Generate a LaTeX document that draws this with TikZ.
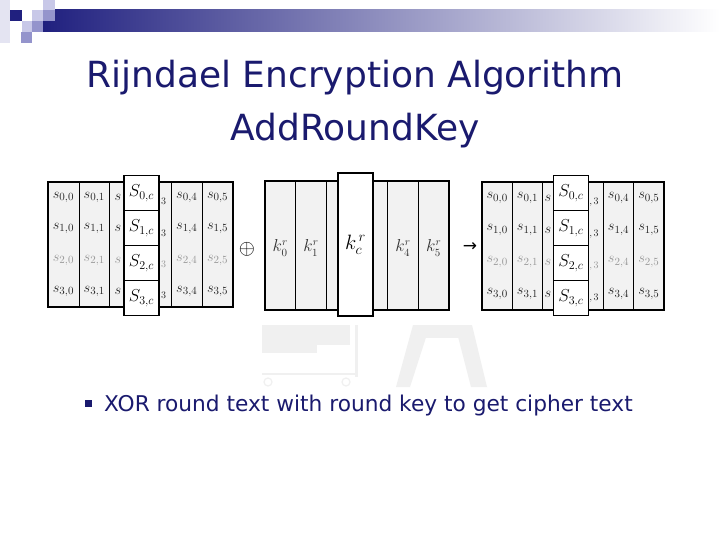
\documentclass[tikz,border=0pt]{standalone}
\usepackage{fontspec}
\setmainfont{DejaVu Sans}
\usetikzlibrary{positioning}

\definecolor{navy}{HTML}{1A1A6E}
\definecolor{barblue}{HTML}{20207F}
\definecolor{cellgray}{HTML}{F2F2F2}
\definecolor{sqa}{HTML}{C8C8E8}
\definecolor{sqb}{HTML}{9494CC}
\definecolor{sqc}{HTML}{E4E4F2}
\definecolor{wmark}{HTML}{F0F0F0}

\tikzset{
  frame/.style={draw, line width=2pt, fill=cellgray},
  sep/.style={line width=0.6pt},
  cell/.style={inner sep=0pt, font=\fontsize{15.5}{15.5}\selectfont},
  colbox/.style={draw, line width=1.6pt, fill=white, minimum width=35pt,
    minimum height=35pt, inner sep=0pt, font=\fontsize{18}{18}\selectfont},
  keylbl/.style={inner sep=0pt, text=black!80, font=\fontsize{16}{16}\selectfont},
  titletext/.style={anchor=base, text=navy, font=\fontsize{36}{36}\selectfont},
}

\begin{document}
\begin{tikzpicture}[x=1pt,y=-1pt]
\useasboundingbox (0,0) rectangle (720,540);
\fill[white] (0,0) rectangle (720,540);

% header squares and bar
\shade[left color=barblue, right color=white] (43,10) rectangle (720,32);
\fill[sqc] (0,0) rectangle (10,43);
\fill[barblue] (10,10) rectangle (22,21);
\fill[sqa] (32,10) rectangle (43,21);
\fill[sqa] (43,0) rectangle (55,10);
\fill[sqb] (43,10) rectangle (55,21);
\fill[sqa] (22,21) rectangle (32,32);
\fill[sqb] (32,21) rectangle (43,32);
\fill[sqb] (21,32) rectangle (32,43);

% title
\node (TITLE1) at (355,88) [titletext] {Rijndael Encryption Algorithm};
\node (TITLE2) at (355,141) [titletext] {AddRoundKey};

% faint watermark
\fill[wmark] (262,325) rectangle (350,345);
\fill[wmark] (262,345) rectangle (317,353);
\fill[wmark] (355,325) rectangle (358,377);
\fill[wmark] (262,373) rectangle (358,375);
\draw[wmark, line width=1.2pt] (268,382) circle (4) (346,382) circle (4);
\fill[wmark] (413,325) -- (472,325) -- (472,338) -- (413,338) -- cycle;
\fill[wmark] (413,325) -- (430,325) -- (410,387) -- (396,387) -- cycle;
\fill[wmark] (455,325) -- (472,325) -- (487,387) -- (471,387) -- cycle;

% state before
\draw[frame] (48,182) rectangle (233,307);
\foreach \c in {1,...,5}
  \draw[sep] ({48+30.83*\c},182) -- ({48+30.83*\c},307);
\foreach \r/\tc in {0/black!85,1/black!85,2/black!40,3/black!85}{
  \foreach \c in {0,1,4,5}
    \node[cell, text=\tc] (L\r\c) at ({48+30.83*(\c+0.5)},{182+31.25*(\r+0.5)}) {$s_{\r,\c}$};
  \node[cell, text=\tc] (L\r2) at (118,{182+31.25*(\r+0.5)}) {$s$};
  \node[cell, text=\tc, font=\fontsize{10}{10}\selectfont] (L\r3) at (163.5,{186+31.25*(\r+0.5)}) {$3$};
}
\foreach \r in {0,...,3}
  \node[colbox] (LS\r) at (141.5,{193+35*\r}) {$S_{\r,c}$};

% round key
\draw[frame] (265,181) rectangle (449,310);
\foreach \c in {1,2,4,5}
  \draw[sep] ({265+30.67*\c},181) -- ({265+30.67*\c},310);
\node[keylbl] (K0) at (280.3,248) {$k_0^r$};
\node[keylbl] (K1) at (311,248) {$k_1^r$};
\node[keylbl] (K4) at (403,248) {$k_4^r$};
\node[keylbl] (K5) at (433.7,248) {$k_5^r$};
\node[colbox, minimum height=143pt, font=\fontsize{21}{21}\selectfont] (KC) at (355.5,244.5) {$k_c^{\,r}$};

\node (XOR) at (247,249) [inner sep=0pt, font=\fontsize{22}{22}\selectfont] {$\oplus$};
\node (TO) at (470,247) [inner sep=0pt, font=\fontsize{17}{17}\selectfont] {→};

% state after
\draw[frame] (482,182) rectangle (664,310);
\foreach \c in {1,...,5}
  \draw[sep] ({482+30.33*\c},182) -- ({482+30.33*\c},310);
\foreach \r/\tc in {0/black!85,1/black!85,2/black!40,3/black!85}{
  \foreach \c in {0,1,4,5}
    \node[cell, text=\tc] (R\r\c) at ({482+30.33*(\c+0.5)},{182+32*(\r+0.5)}) {$s_{\r,\c}$};
  \node[cell, text=\tc] (R\r2) at (548,{182+32*(\r+0.5)}) {$s$};
  \node[cell, text=\tc, font=\fontsize{10}{10}\selectfont] (R\r3) at (594,{186+32*(\r+0.5)}) {$,3$};
}
\foreach \r in {0,...,3}
  \node[colbox] (RS\r) at (571,{193+35*\r}) {$S_{\r,c}$};

% bullet
\fill[navy] (84.5,399.5) rectangle (91.5,406.5);
\node (BUL) at (104,411) [anchor=base west, inner sep=0pt, text=navy, font=\fontsize{21.7}{21.7}\selectfont] {XOR round text with round key to get cipher text};

\end{tikzpicture}
\end{document}
